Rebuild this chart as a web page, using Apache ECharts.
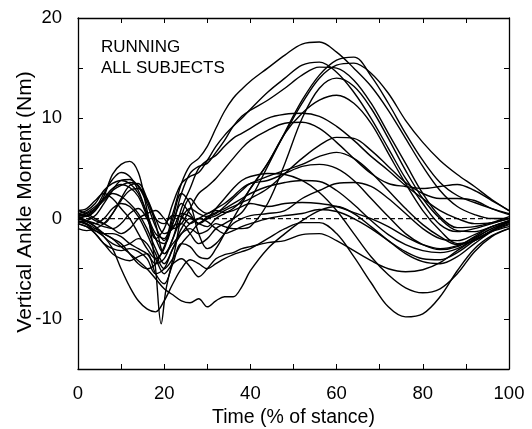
<!DOCTYPE html>
<html><head><meta charset="utf-8">
<script src="https://cdn.jsdelivr.net/npm/echarts@6/dist/echarts.min.js"></script>
<style>html,body{margin:0;padding:0;background:#fff}#c{width:532px;height:429px}</style>
</head><body><div id="c"></div>
<script>
// Each subject curve: [time %, moment Nm]
const subjA = [[0,0],[2,0.3],[4,1.0],[6,2.5],[8,3.9],[10,4.6],[12,4.2],[14,2.8],[16,0.5],[18,-1.5],[20,-2.0],[22,0.5],[24,3.5],[26,5.3],[28,6.0],[30,7.2],[32,9.0],[34,10.7],[36,12.0],[38,12.9],[40,13.7],[44,15.0],[48,16.3],[52,17.4],[56,17.6],[60,16.6],[64,15.0],[68,13.2],[72,10.8],[76,8.0],[80,5.2],[84,2.8],[88,1.2],[92,0.4],[96,0],[100,0]];
const subjB = [[0,0.3],[2,0.2],[4,0.8],[6,2.0],[8,3.0],[10,3.4],[12,3.1],[14,2.2],[16,0.2],[18,-2.0],[20,-1.0],[22,1.5],[24,3.5],[26,4.2],[28,4.6],[30,5.8],[32,7.2],[34,8.3],[36,9.2],[38,10.0],[40,10.9],[44,12.6],[48,14.0],[52,15.3],[56,15.6],[60,14.6],[64,12.6],[68,10.0],[72,7.0],[76,4.0],[80,1.5],[84,-0.6],[88,-1.3],[92,-1.0],[96,-0.5],[100,0]];
const subjC = [[0,-0.3],[2,-0.2],[4,0.3],[6,1.5],[8,2.8],[10,3.8],[12,3.9],[14,3.2],[16,1.5],[18,-0.8],[20,-2.2],[22,-0.5],[24,2.5],[26,4.5],[28,5.2],[30,5.5],[32,6.6],[34,7.8],[36,9.2],[38,10.2],[40,10.8],[44,11.8],[48,13.0],[52,14.3],[56,15.1],[60,15.0],[64,13.8],[68,11.5],[72,8.5],[76,5.5],[80,2.5],[84,0.2],[88,-0.9],[92,-0.8],[96,-0.4],[100,0.2]];
const subjD = [[0,0.5],[2,0.3],[4,-0.2],[6,-0.5],[8,0.5],[10,2.0],[12,3.3],[14,3.5],[16,2.0],[18,-0.5],[20,-3.5],[22,-2.0],[24,1.0],[26,3.0],[28,5.0],[30,5.8],[32,6.3],[34,7.2],[36,8.0],[38,8.5],[40,9.0],[44,10.0],[48,10.4],[52,10.5],[56,10.2],[60,9.2],[64,7.8],[68,6.2],[72,4.8],[76,3.3],[80,2.0],[84,0.8],[88,0],[92,-0.5],[96,-0.4],[100,0]];
const subjE = [[0,0],[2,-0.3],[4,-0.8],[6,-1.5],[8,-2.0],[10,-2.5],[12,-3.5],[14,-4.5],[16,-5.0],[18,-4.5],[20,-2.8],[22,-0.8],[24,-0.5],[26,-1.5],[28,-2.5],[30,-2.0],[32,-1.0],[34,-0.5],[36,0],[38,0.6],[40,1.9],[44,5.2],[48,8.6],[52,11.8],[56,14.3],[60,15.8],[64,16.1],[68,14.2],[72,11.5],[76,8.5],[80,5.8],[84,3.6],[88,2.3],[92,1.6],[96,1.0],[100,0.5]];
const subjF = [[0,-0.5],[2,-0.8],[4,-1.5],[6,-2.5],[8,-3.5],[10,-4.0],[12,-4.2],[14,-3.8],[16,-3.5],[18,-5.5],[20,-6.5],[22,-4.5],[24,-2.5],[26,-2.8],[28,-3.8],[30,-4.0],[32,-3.0],[34,-1.5],[36,0],[38,1.5],[40,3.0],[44,5.5],[48,8.5],[52,11.5],[56,14.0],[60,15.3],[64,15.5],[68,14.5],[72,12.5],[76,9.8],[80,7.6],[84,5.8],[88,4.4],[92,3.2],[96,1.9],[100,0.8]];
const subjG = [[0,0.2],[2,0.5],[4,1.0],[6,1.8],[8,2.5],[10,2.2],[12,1.5],[14,0.5],[16,-1.0],[18,-3.0],[20,-4.5],[22,-3.0],[24,-1.0],[26,0],[28,-0.5],[30,-0.8],[32,0],[34,0.5],[36,1.0],[38,1.8],[40,3.0],[44,5.5],[48,8.5],[52,10.5],[56,11.8],[60,12.3],[64,11.5],[68,9.5],[72,6.5],[76,3.5],[80,0.8],[84,-1.2],[88,-2.5],[92,-2.2],[96,-1.2],[100,-0.3]];
const subjH = [[0,0.8],[2,0.5],[4,0],[6,-0.5],[8,-1.0],[10,-1.5],[12,-1.0],[14,0],[16,0.5],[18,0.8],[20,0],[22,-1.0],[24,-0.5],[26,1.0],[28,2.5],[30,3.2],[32,4.0],[34,5.0],[36,6.0],[38,7.0],[40,7.8],[44,8.8],[48,9.5],[52,9.6],[56,9.0],[60,7.6],[64,6.0],[68,4.5],[72,3.5],[76,3.2],[80,3.0],[84,3.2],[88,3.4],[92,2.8],[96,1.8],[100,0.8]];
const subjI = [[0,0],[2,-0.3],[4,-0.5],[6,0],[8,1.0],[10,1.5],[12,1.2],[14,0.2],[16,-1.5],[18,-3.5],[20,-5.0],[22,-4.0],[24,-2.5],[26,-1.5],[28,-0.5],[30,0],[32,0.3],[34,0.8],[36,1.2],[38,1.6],[40,2.0],[44,3.0],[48,4.5],[52,6.0],[56,7.3],[60,8.1],[64,8.0],[68,6.8],[72,5.2],[76,3.6],[80,2.5],[84,2.0],[88,2.0],[92,1.8],[96,1.0],[100,0.4]];
const subjJ = [[0,-0.5],[2,-0.8],[4,-1.2],[6,-1.5],[8,-1.5],[10,-1.8],[12,-2.5],[14,-3.0],[16,-3.5],[18,-4.5],[20,-4.0],[22,-2.0],[24,0],[26,1.0],[28,0.5],[30,0.2],[32,0.5],[34,1.2],[36,2.0],[38,2.8],[40,3.5],[44,4.2],[48,4.8],[52,5.4],[56,6.2],[60,6.6],[64,6.0],[68,4.6],[72,2.8],[76,1.0],[80,-0.6],[84,-1.8],[88,-2.6],[92,-2.2],[96,-1.2],[100,-0.3]];
const subjK = [[0,0.5],[2,0.3],[4,0.8],[6,2.2],[8,4.4],[10,5.4],[12,5.7],[14,4.6],[15.5,1.9],[16.7,-0.8],[18,-5],[19.3,-10.5],[20.4,-7.1],[22.5,-3.1],[24,0.2],[26,2.0],[28,1.0],[30,0.5],[32,1.0],[34,1.5],[36,2.2],[38,3.0],[40,3.5],[44,3.8],[48,4.5],[52,5.2],[56,5.4],[60,5.0],[64,3.8],[68,2.0],[72,0.2],[76,-1.5],[80,-2.6],[84,-3.1],[88,-2.8],[92,-1.8],[96,-0.8],[100,-0.2]];
const subjL = [[0,-1.0],[2,-1.2],[4,-1.0],[6,-0.5],[8,0.5],[10,1.8],[12,2.8],[14,3.0],[16,2.0],[18,0],[20,-1.5],[22,-1.0],[24,0.5],[26,0.2],[28,-0.5],[30,0.2],[32,0.6],[34,1.0],[36,1.5],[38,2.0],[40,2.5],[44,3.2],[48,3.6],[52,3.8],[56,3.7],[60,2.8],[64,1.4],[68,-0.2],[72,-1.6],[76,-2.6],[80,-3.2],[84,-3.4],[88,-3.0],[92,-2.0],[96,-1.0],[100,-0.4]];
const subjM = [[0,0.3],[2,0.6],[4,1.2],[6,2.0],[8,2.8],[10,3.3],[12,3.6],[14,3.3],[16,1.8],[18,0],[20,-0.5],[22,0.3],[24,0.2],[26,-0.5],[28,0],[30,0.5],[32,0.8],[34,0.6],[36,0.8],[38,1.2],[40,1.5],[44,1.2],[48,1.5],[52,1.6],[56,1.5],[60,1.2],[64,0.6],[68,0],[72,-0.8],[76,-1.8],[80,-2.6],[84,-3.0],[88,-2.7],[92,-1.9],[96,-1.0],[100,-0.3]];
const subjN = [[0,-0.2],[2,-0.5],[4,-1.5],[6,-2.5],[8,-3.0],[10,-3.2],[12,-3.0],[14,-3.3],[16,-4.0],[18,-5.5],[20,-5.0],[22,-3.0],[24,-1.5],[26,-0.5],[28,0],[30,-0.3],[32,-1.0],[34,-1.5],[36,-1.2],[38,-0.8],[40,-0.5],[44,0],[48,0.3],[52,0.5],[56,0.9],[60,0.7],[64,0],[68,-1.0],[72,-2.2],[76,-3.3],[80,-4.0],[84,-4.1],[88,-3.4],[92,-2.2],[96,-1.2],[100,-0.5]];
const subjO = [[0,-0.3],[2,-0.6],[4,-1.2],[6,-1.8],[8,-3.0],[10,-5.0],[12,-6.8],[14,-8.2],[16,-9.0],[18,-9.3],[20,-8.2],[22,-6.5],[24,-5.0],[26,-4.1],[28,-4.5],[30,-5.0],[32,-4.5],[34,-4.0],[36,-3.6],[38,-3.3],[40,-3.0],[44,-2.0],[48,-1.0],[52,-0.4],[56,-0.4],[60,-1.5],[64,-3.8],[68,-6.4],[72,-8.8],[76,-9.8],[80,-9.5],[84,-7.8],[88,-5.2],[92,-3.0],[96,-1.7],[100,-1.0]];
const subjP = [[0,0.2],[2,-0.2],[4,-0.8],[6,-1.8],[8,-2.5],[10,-2.8],[12,-2.5],[14,-2.0],[16,-2.5],[18,-4.0],[20,-5.5],[22,-4.5],[24,-4.0],[26,-4.8],[28,-5.8],[30,-5.0],[32,-4.0],[34,-3.6],[36,-3.4],[38,-3.0],[40,-2.8],[44,-2.4],[48,-2.2],[52,-1.6],[56,-1.5],[60,-2.2],[64,-3.2],[68,-4.2],[72,-5.0],[76,-5.3],[80,-5.1],[84,-4.4],[88,-3.2],[92,-2.1],[96,-1.3],[100,-0.8]];
const subjQ = [[0,0.5],[2,0.8],[4,1.5],[6,2.8],[8,3.5],[10,3.8],[12,3.5],[14,2.5],[16,0.5],[18,-2.0],[20,-2.5],[22,-0.5],[24,1.5],[26,0.5],[28,-0.5],[30,0],[32,1.0],[34,2.0],[36,3.0],[38,3.8],[40,4.2],[44,4.5],[48,4.4],[52,3.8],[56,2.6],[60,0.8],[64,-1.5],[68,-3.8],[72,-5.6],[76,-6.9],[80,-7.4],[84,-7.0],[88,-5.5],[92,-3.3],[96,-1.8],[100,-1.0]];
const subjR = [[0,-0.3],[2,-0.5],[4,-1.0],[6,-1.5],[8,-2.0],[10,-2.8],[12,-3.5],[14,-4.2],[16,-5.0],[18,-6.0],[20,-7.0],[22,-7.6],[24,-8.2],[26,-8.4],[28,-8.0],[30,-8.8],[32,-8.2],[34,-7.8],[36,-7.8],[38,-6.8],[40,-5.2],[44,-3.0],[48,-1.5],[52,-0.2],[56,0.8],[60,1.2],[64,0.5],[68,-0.8],[72,-2.2],[76,-3.5],[80,-4.3],[84,-4.5],[88,-3.8],[92,-2.5],[96,-1.3],[100,-0.6]];
const subjS = [[0,0],[2,-0.2],[4,-0.5],[6,-0.8],[8,-1.0],[10,-0.5],[12,0.5],[14,1.0],[16,0],[18,-2.0],[20,-3.5],[22,-2.5],[24,-1.5],[26,-1.0],[28,-1.5],[30,-1.2],[32,-0.5],[34,-0.8],[36,-1.0],[38,-1.0],[40,-0.8],[44,1.5],[48,5.5],[52,10.0],[56,13.0],[60,14.0],[64,13.2],[68,11.0],[72,8.0],[76,4.8],[80,2.0],[84,0],[88,-1.2],[92,-1.3],[96,-0.8],[100,-0.2]];
const subjT = [[0,0.8],[2,1.0],[4,1.8],[6,2.5],[8,2.0],[10,1.0],[12,0],[14,-1.5],[16,-3.0],[18,-4.0],[20,-3.0],[22,0],[24,2.5],[26,1.5],[28,-1.5],[30,-3.0],[32,-2.5],[34,-1.5],[36,-0.5],[38,0],[40,0.3],[44,0.5],[48,0.8],[52,2.0],[56,2.8],[60,3.5],[64,3.6],[68,3.2],[72,2.0],[76,0.5],[80,-1.0],[84,-2.0],[88,-2.2],[92,-1.6],[96,-0.8],[100,-0.3]];
const subjects = [subjA,subjB,subjC,subjD,subjE,subjF,subjG,subjH,subjI,subjJ,subjK,subjL,subjM,subjN,subjO,subjP,subjQ,subjR,subjS,subjT];
const zeroLine = [[0,0],[100,0]];
const xTitle = 'Time (% of stance)';
const yTitle = 'Vertical Ankle Moment (Nm)';
const panelText = ['RUNNING','ALL SUBJECTS'];

const FONT = 'Liberation Sans, Arial, Helvetica, sans-serif';
const chart = echarts.init(document.getElementById('c'), null, {renderer:'canvas'});
const tickStyle = {show:true, inside:true, length:5, lineStyle:{color:'#000', width:1}};
const lineSt = {show:true, onZero:false, lineStyle:{color:'#000', width:1.3}};
const series = subjects.map((d,i)=>({
  type:'line', data:d, showSymbol:false, symbol:'none', smooth:0.35,
  lineStyle:{color:'#000', width:1.4}, silent:true, z:3
}));
series.push({type:'line', data:zeroLine, symbol:'none', silent:true,
  lineStyle:{color:'#111', width:1.3, type:[5,3]}, z:2});
chart.setOption({
  animation:false,
  backgroundColor:'#fff',
  grid:{left:78, right:23, top:18, bottom:60, containLabel:false, outerBoundsMode:'none'},
  xAxis:[
    {type:'value', min:0, max:100, interval:10, position:'bottom',
     axisLine:lineSt, axisTick:tickStyle, splitLine:{show:false},
     axisLabel:{color:'#000', fontSize:18.5, fontFamily:FONT, margin:15,
       formatter:v=> v%20===0 ? String(v) : ''},
     name:xTitle, nameLocation:'middle', nameGap:37,
     nameTextStyle:{color:'#000', fontSize:19.5, fontFamily:FONT}},
    {type:'value', min:0, max:100, interval:10, position:'top',
     axisLine:lineSt, axisTick:tickStyle, splitLine:{show:false}, axisLabel:{show:false}}
  ],
  yAxis:[
    {type:'value', min:-15, max:20, interval:5, position:'left',
     axisLine:lineSt, axisTick:tickStyle, splitLine:{show:false},
     axisLabel:{color:'#000', fontSize:18.5, fontFamily:FONT, margin:16,
       formatter:v=> v%10===0 ? String(v) : ''}},
    {type:'value', min:-15, max:20, interval:5, position:'right',
     axisLine:lineSt, axisTick:tickStyle, splitLine:{show:false}, axisLabel:{show:false}}
  ],
  graphic:[
    {type:'text', x:25, y:202, rotation:Math.PI/2,
     style:{text:yTitle, fill:'#000', font:'21px '+FONT, align:'center', verticalAlign:'middle'}},
    {type:'text', left:101, top:39, style:{text:panelText[0], fill:'#000', font:'17px '+FONT}},
    {type:'text', left:101, top:60, style:{text:panelText[1], fill:'#000', font:'17px '+FONT}}
  ],
  series:series
});
</script></body></html>
